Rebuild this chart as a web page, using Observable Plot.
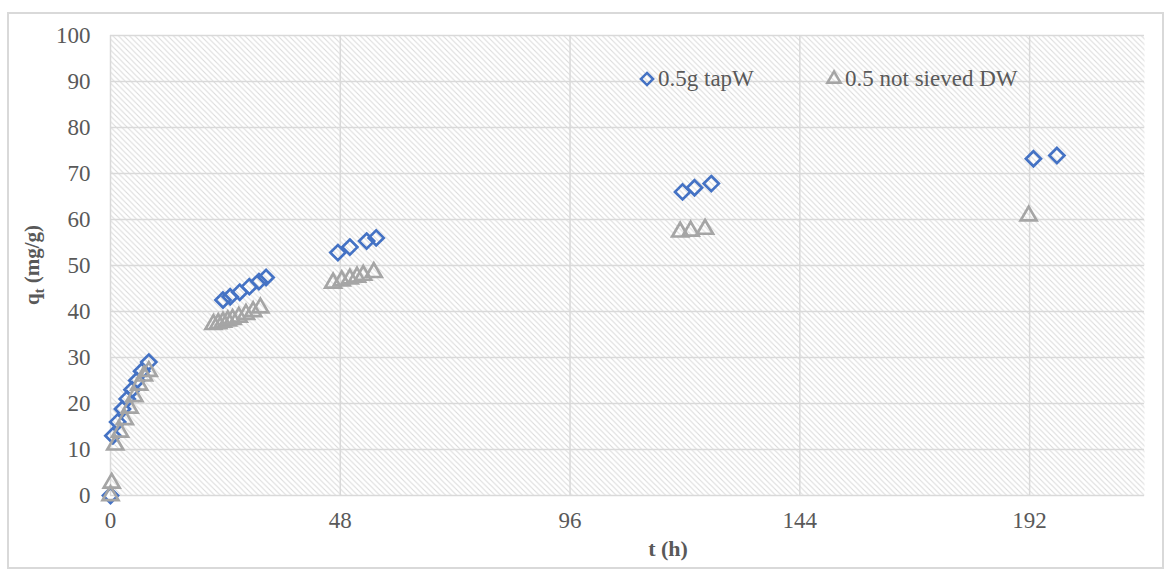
<!DOCTYPE html>
<html>
<head>
<meta charset="utf-8">
<script src="https://cdn.jsdelivr.net/npm/d3@7"></script>
<script src="https://cdn.jsdelivr.net/npm/@observablehq/plot@0.6"></script>
<style>
  body { margin: 0; background: #fff; }
  #chart { position: relative; width: 1169px; height: 572px; }
  #chart svg { display: block; }
  #border { position: absolute; left: 7px; top: 12px; width: 1153px; height: 553px;
            border: 2px solid #d9d9d9; pointer-events: none; }
</style>
</head>
<body>
<div id="chart"><div id="border"></div></div>
<script>
// Uptake q_t (mg/g) against contact time t (h)
const tapTime = [0, 0.5, 1.5, 2.5, 3.5, 4.5, 5.5, 6.5, 8,
                 23.5, 25, 27, 29, 31, 32.5,
                 47.5, 50, 53.5, 55.5,
                 119.5, 122, 125.5,
                 192.8, 197.7];
const tapQ    = [0, 13, 16, 18.8, 21, 23, 25, 27, 29,
                 42.5, 43.2, 44.2, 45.4, 46.5, 47.4,
                 52.8, 54, 55.3, 56,
                 66, 66.9, 67.8,
                 73.2, 73.9];

const dwTime  = [0, 0.25, 1, 2, 3, 4, 5, 6, 7, 8,
                 21.5, 22.5, 23.5, 24.5, 25.5, 26.8, 28.3, 29.8, 31.3,
                 46.5, 48.3, 50, 51.5, 52.8, 55,
                 119, 121.2, 124.2,
                 191.8];
const dwQ     = [0, 2.7, 11, 13.8, 16.5, 19, 21.5, 24, 26, 27,
                 37.2, 37.4, 37.7, 38, 38.3, 38.8, 39.4, 40, 40.8,
                 46.2, 46.7, 47.1, 47.5, 47.9, 48.5,
                 57.3, 57.5, 57.9,
                 60.8];

const seriesNames = ["0.5g tapW", "0.5 not sieved DW"];
const xTicks = [0, 48, 96, 144, 192];
const yTicks = [0, 10, 20, 30, 40, 50, 60, 70, 80, 90, 100];
const xTitle = "t (h)";

const tap = tapTime.map((t, i) => ({t, q: tapQ[i]}));
const dw  = dwTime.map((t, i) => ({t, q: dwQ[i]}));

const blue = "#4472C4", gray = "#A5A5A5", ink = "#595959", grid = "#d9d9d9";
const font = "'Liberation Serif', 'Times New Roman', serif";
const rDiamond = 6.8, rTriangle = 7.6;

const plot = Plot.plot({
  width: 1169,
  height: 572,
  marginLeft: 110,
  marginRight: 25,
  marginTop: 35,
  marginBottom: 77,
  style: {fontFamily: font, fontSize: "23px", color: ink, background: "transparent", overflow: "visible"},
  x: {domain: [0, 216]},
  y: {domain: [0, 100]},
  marks: [
    Plot.frame({fill: "url(#hatch)", stroke: null}),
    Plot.gridY(yTicks, {stroke: grid, strokeOpacity: 1, strokeWidth: 1.5}),
    Plot.gridX(xTicks, {stroke: grid, strokeOpacity: 1, strokeWidth: 1.5}),
    Plot.axisX(xTicks, {tickSize: 0, tickPadding: 16, label: null, fill: ink}),
    Plot.axisY(yTicks, {tickSize: 0, tickPadding: 20, label: null, fill: ink}),
    Plot.dot(tap, {x: "t", y: "q", symbol: "diamond2", r: rDiamond, stroke: blue, strokeWidth: 2.7, fill: "none"}),
    Plot.dot(dw,  {x: "t", y: "q", symbol: "triangle2", r: rTriangle, stroke: gray, strokeWidth: 2.7, fill: "none"})
  ]
});

const svg = d3.select(plot);

// diagonal hatch used as the plot-area fill
svg.insert("defs", ":first-child").html(
  `<pattern id="hatch" patternUnits="userSpaceOnUse" width="5.5" height="5.5">
     <rect width="5.5" height="5.5" fill="#ffffff"/>
     <path d="M-1,-1 L6.5,6.5 M-1,4.5 L1,6.5 M4.5,-1 L6.5,1" stroke="#dadada" stroke-width="1"/>
   </pattern>`
);

// axis titles
svg.append("text")
  .attr("x", 668).attr("y", 556)
  .attr("text-anchor", "middle")
  .attr("font-family", font).attr("font-size", 22).attr("font-weight", "bold")
  .attr("fill", ink)
  .text(xTitle);

const yt = svg.append("text")
  .attr("transform", "translate(39,265) rotate(-90)")
  .attr("text-anchor", "middle")
  .attr("font-family", font).attr("font-size", 21).attr("font-weight", "bold")
  .attr("fill", ink);
yt.append("tspan").text("q");
yt.append("tspan").attr("dy", 5).attr("font-size", 14).text("t");
yt.append("tspan").attr("dy", -5).text(" (mg/g)");

// legend inside the plot area
const legend = svg.append("g")
  .attr("font-family", font).attr("font-size", 23).attr("fill", ink)
  .attr("text-anchor", "start");
const legendItems = [
  {name: seriesNames[0], sym: d3.symbolDiamond2, r: rDiamond - 1.3, color: blue, x: 647},
  {name: seriesNames[1], sym: d3.symbolTriangle2, r: rTriangle - 1.3, color: gray, x: 834}
];
for (const d of legendItems) {
  legend.append("path")
    .attr("transform", `translate(${d.x},79)`)
    .attr("d", d3.symbol(d.sym, Math.PI * d.r * d.r)())
    .attr("fill", "none").attr("stroke", d.color).attr("stroke-width", 2.5);
  legend.append("text")
    .attr("x", d.x + 11).attr("y", 86)
    .attr("text-anchor", "start")
    .text(d.name);
}

document.getElementById("chart").prepend(plot);
</script>
</body>
</html>
